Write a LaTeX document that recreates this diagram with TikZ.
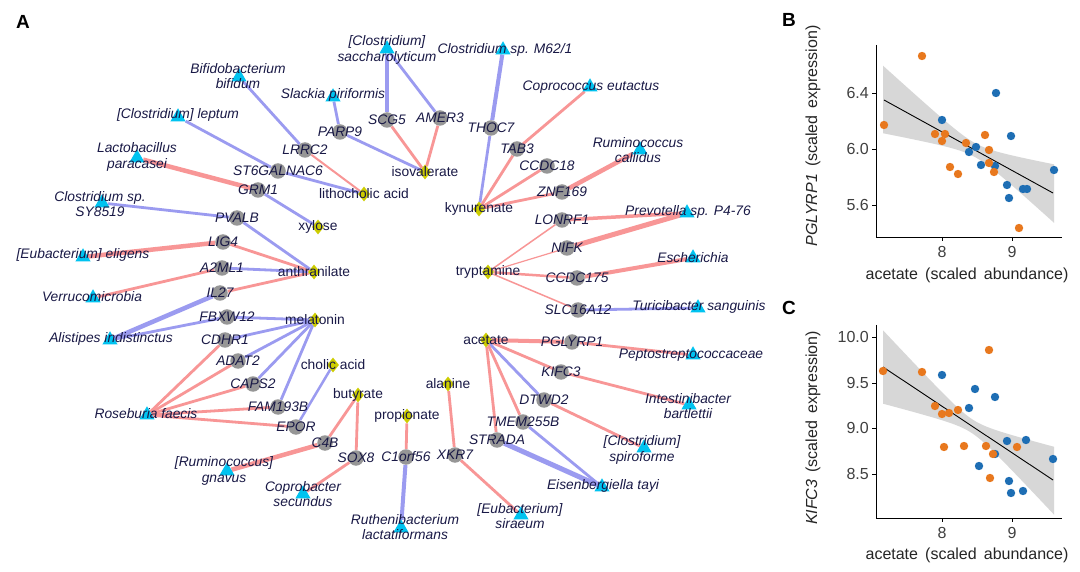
\documentclass[tikz,border=0pt]{standalone}
\usepackage{fontspec}
\setmainfont{Liberation Sans}
\usetikzlibrary{shapes.geometric}
\pgfdeclarelayer{bglayer}
\pgfdeclarelayer{edgelayer}
\pgfsetlayers{bglayer,edgelayer,main}
\definecolor{bactcol}{RGB}{0,195,240}
\definecolor{genecol}{RGB}{150,150,150}
\definecolor{metcol}{RGB}{205,205,0}
\definecolor{txtcol}{RGB}{25,25,70}
\definecolor{edgered}{RGB}{248,150,150}
\definecolor{edgeblue}{RGB}{155,155,240}
\definecolor{dotorange}{RGB}{232,120,30}
\definecolor{dotblue}{RGB}{30,110,180}
\definecolor{bandgray}{RGB}{215,215,215}
\newcommand\labfont{\fontsize{13.8}{15.5}\selectfont}
\newcommand\axfont{\fontsize{16}{18}\selectfont}
\newcommand\bac[4]{\node[tri] (#1) at (#2) {};\node[ilbl] (#1-l) at (#3) {#4};}
\newcommand\gen[3]{\node[gene] (#1) at (#2) {};\node[ilbl] (#1-l) at (#2) {#3};}
\newcommand\met[3]{\node[metab] (#1) at (#2) {};\node[lbl] (#1-l) at (#2) {#3};}
\begin{document}
\begin{tikzpicture}[x=1pt,y=-1pt,
  tri/.style={regular polygon, regular polygon sides=3, fill=bactcol, minimum size=17.5pt, inner sep=0pt},
  gene/.style={circle, fill=genecol, minimum size=15.5pt, inner sep=0pt},
  metab/.style={diamond, fill=metcol, minimum width=12pt, minimum height=15pt, inner sep=0pt},
  lbl/.style={text=txtcol, font=\labfont, align=center, inner sep=0pt},
  ilbl/.style={text=txtcol, font=\labfont\itshape, align=center, inner sep=0pt},
  redge/.style={draw=edgered, line width=#1pt}, redge/.default=2.8,
  bedge/.style={draw=edgeblue, line width=#1pt}, bedge/.default=2.8,
  panel/.style={font=\fontsize{19}{21}\selectfont\bfseries, inner sep=0pt},
  axline/.style={line width=0.9pt, black},
  tick/.style={font=\axfont, text=black!75, inner sep=0pt},
  axtitle/.style={font=\axfont, text=black!85, inner sep=0pt}
]
\useasboundingbox (0,0) rectangle (1080,572);
\begin{pgfonlayer}{bglayer}
\fill[white] (0,0) rectangle (1080,572);
\end{pgfonlayer}

% panel letters
\node[panel] (pA) at (23,22) {A};
\node[panel] (pB) at (789,20) {B};
\node[panel] (pC) at (789,308) {C};

% ---------- bacteria ----------
\bac{bif}{239,77}{238,76}{Bifidobacterium\\bifidum}
\bac{sla}{333,97}{333,95}{Slackia piriformis}
\bac{lep}{178,117}{178,115}{[Clostridium] leptum}
\bac{lac}{137,158}{137,157}{Lactobacillus\\paracasei}
\bac{sac}{387,49}{387,50}{[Clostridium]\\saccharolyticum}
\bac{m62}{503,50}{505,50}{Clostridium sp. M62/1}
\bac{cop}{590,87}{591,87}{Coprococcus eutactus}
\bac{rum}{640,150}{638,150}{Ruminococcus\\callidus}
\bac{sy}{102,203}{100,204}{Clostridium sp.\\SY8519}
\bac{eli}{83,257}{83,255}{[Eubacterium] eligens}
\bac{ver}{93,298}{92,297}{Verrucomicrobia}
\bac{ali}{110,340}{111,339}{Alistipes indistinctus}
\bac{ros}{147,415}{146,414}{Roseburia faecis}
\bac{gna}{227,471}{224,471}{[Ruminococcus]\\gnavus}
\bac{cps}{303,494}{303,494}{Coprobacter\\secundus}
\bac{rut}{401,528}{405,527}{Ruthenibacterium\\lactatiformans}
\bac{sir}{521,515}{520,516}{[Eubacterium]\\siraeum}
\bac{eis}{602,487}{603,486}{Eisenbergiella tayi}
\bac{spi}{644,448}{642,450}{[Clostridium]\\spiroforme}
\bac{int}{689,405}{688,406}{Intestinibacter\\bartlettii}
\bac{pep}{693,355}{691,355}{Peptostreptococcaceae}
\bac{tur}{698,308}{699,307}{Turicibacter sanguinis}
\bac{esc}{693,258}{693,258}{Escherichia}
\bac{pre}{687,213}{688,212}{Prevotella sp. P4-76}

% ---------- genes ----------
\gen{PARP9}{340,132}{PARP9}
\gen{LRRC2}{305,150}{LRRC2}
\gen{ST6}{278,171}{ST6GALNAC6}
\gen{GRM1}{258,190}{GRM1}
\gen{SCG5}{387,120}{SCG5}
\gen{AMER3}{440,118}{AMER3}
\gen{THOC7}{491,128}{THOC7}
\gen{TAB3}{517,149}{TAB3}
\gen{CCDC18}{547,166}{CCDC18}
\gen{ZNF169}{562,192}{ZNF169}
\gen{LONRF1}{562,220}{LONRF1}
\gen{NIFK}{567,248}{NIFK}
\gen{CCDC175}{577,278}{CCDC175}
\gen{SLC}{578,310}{SLC16A12}
\gen{PGLYRP1}{572,342}{PGLYRP1}
\gen{KIFC3}{561,372}{KIFC3}
\gen{DTWD2}{544,400}{DTWD2}
\gen{TMEM}{523,422}{TMEM255B}
\gen{STRADA}{497,440}{STRADA}
\gen{XKR7}{455,455}{XKR7}
\gen{C1orf56}{406,457}{C1orf56}
\gen{SOX8}{356,458}{SOX8}
\gen{C4B}{325,443}{C4B}
\gen{EPOR}{296,427}{EPOR}
\gen{FAM193B}{278,407}{FAM193B}
\gen{CAPS2}{253,384}{CAPS2}
\gen{ADAT2}{238,361}{ADAT2}
\gen{CDHR1}{225,340}{CDHR1}
\gen{FBXW12}{227,317}{FBXW12}
\gen{IL27}{220,293}{IL27}
\gen{A2ML1}{222,268}{A2ML1}
\gen{LIG4}{223,242}{LIG4}
\gen{PVALB}{237,218}{PVALB}

% ---------- metabolites ----------
\met{litho}{364,194}{lithocholic acid}
\met{isov}{425,172}{isovalerate}
\met{xyl}{318,227}{xylose}
\met{kyn}{479,209}{kynurenate}
\met{anth}{314,272}{anthranilate}
\met{tryp}{488,272}{tryptamine}
\met{mel}{315,320}{melatonin}
\met{chol}{333,365}{cholic acid}
\met{acet}{486,340}{acetate}
\met{but}{358,395}{butyrate}
\met{ala}{448,384}{alanine}
\met{prop}{407,416}{propionate}

% ---------- edges ----------
\begin{pgfonlayer}{edgelayer}
\draw[bedge] (bif) -- (LRRC2);
\draw[redge=2] (LRRC2) -- (litho);
\draw[bedge] (lep) -- (ST6);
\draw[bedge] (ST6) -- (litho);
\draw[redge=4.5] (lac) -- (GRM1);
\draw[bedge] (GRM1) -- (xyl);
\draw[bedge] (sla) -- (PARP9);
\draw[bedge] (PARP9) -- (isov);
\draw[bedge=4] (sac) -- (SCG5);
\draw[bedge] (sac) -- (AMER3);
\draw[redge] (SCG5) -- (isov);
\draw[redge] (AMER3) -- (isov);
\draw[bedge=4] (m62) -- (THOC7);
\draw[bedge] (THOC7) -- (kyn);
\draw[redge] (cop) -- (TAB3);
\draw[redge] (TAB3) -- (kyn);
\draw[redge] (CCDC18) -- (kyn);
\draw[redge] (ZNF169) -- (kyn);
\draw[redge=4.5] (rum) -- (ZNF169);
\draw[redge=3.5] (pre) -- (LONRF1);
\draw[redge=5] (pre) -- (NIFK);
\draw[redge=1.5] (LONRF1) -- (tryp);
\draw[redge=1.2] (NIFK) -- (tryp);
\draw[redge=2.5] (CCDC175) -- (tryp);
\draw[redge=4] (esc) -- (CCDC175);
\draw[redge=1.5] (SLC) -- (tryp);
\draw[bedge] (SLC) -- (tur);
\draw[redge=4] (acet) -- (PGLYRP1);
\draw[redge] (PGLYRP1) -- (pep);
\draw[redge] (acet) -- (KIFC3);
\draw[redge] (KIFC3) -- (int);
\draw[bedge] (acet) -- (DTWD2);
\draw[redge] (DTWD2) -- (spi);
\draw[redge] (acet) -- (TMEM);
\draw[redge] (acet) -- (STRADA);
\draw[bedge] (TMEM) -- (eis);
\draw[bedge=5] (STRADA) -- (eis);
\draw[redge] (ala) -- (XKR7);
\draw[redge] (XKR7) -- (sir);
\draw[redge] (prop) -- (C1orf56);
\draw[bedge=4] (C1orf56) -- (rut);
\draw[redge] (but) -- (C4B);
\draw[redge] (but) -- (SOX8);
\draw[redge=4.5] (C4B) -- (gna);
\draw[redge] (SOX8) -- (cps);
\draw[bedge=2.5] (chol) -- (EPOR);
\draw[bedge] (mel) -- (FBXW12);
\draw[bedge] (mel) -- (CDHR1);
\draw[bedge] (mel) -- (ADAT2);
\draw[bedge] (mel) -- (CAPS2);
\draw[bedge] (mel) -- (FAM193B);
\draw[redge] (ros) -- (CDHR1);
\draw[redge] (ros) -- (ADAT2);
\draw[redge] (ros) -- (CAPS2);
\draw[redge] (ros) -- (FAM193B);
\draw[redge] (ros) -- (EPOR);
\draw[bedge=4.5] (ali) -- (IL27);
\draw[bedge] (ali) -- (FBXW12);
\draw[redge] (IL27) -- (anth);
\draw[redge] (ver) -- (A2ML1);
\draw[bedge] (A2ML1) -- (anth);
\draw[redge=4.5] (eli) -- (LIG4);
\draw[redge] (LIG4) -- (anth);
\draw[bedge] (sy) -- (PVALB);
\draw[bedge] (PVALB) -- (anth);
\end{pgfonlayer}

% ---------- panel B ----------
\fill[bandgray] plot[domain=883:1054, samples=60, smooth] (\x, {100+0.5503*(\x-884) - 7*sqrt(1+((\x-975)/19.5)^2)})
  -- plot[domain=1054:883, samples=60, smooth] (\x, {100+0.5503*(\x-884) + 7*sqrt(1+((\x-975)/19.5)^2)}) -- cycle;
\draw[line width=0.9pt, black] (884,100) -- (1053,193);
\foreach \p in {(942,120),(996,93),(1011,136),(969,152),(976,147),(981,165),(995,166),(1007,185),(1009,198),(1023,189),(1027,189),(1054,170)}
  \fill[dotblue] \p circle[radius=4.2pt];
\foreach \p in {(922,56),(884,125),(935,134),(945,134),(942,141),(966,143),(985,135),(989,150),(989,163),(994,172),(950,167),(958,174),(1019,228)}
  \fill[dotorange] \p circle[radius=4.2pt];
\draw[axline] (876,45) -- (876,237) -- (1062,237);
\foreach \yy/\t in {93/6.4,149/6.0,205/5.6} {
  \draw[axline] (872,\yy) -- (876,\yy);
  \node[tick, anchor=east] at (869,\yy) {\t};
}
\foreach \xx/\t in {942/8,1012/9} {
  \draw[axline] (\xx,237) -- (\xx,241);
  \node[tick] at (\xx,252) {\t};
}
\node[axtitle] (xlabB) at (967,275) {acetate\ \,(scaled\ \,abundance)};
\node[axtitle, rotate=90] (ylabB) at (813,136) {\textit{PGLYRP1}\ \,(scaled\ \,expression)};

% ---------- panel C ----------
\fill[bandgray] plot[domain=883:1054, samples=60, smooth] (\x, {367+0.6647*(\x-883) - 7*sqrt(1+((\x-972)/17.3)^2)})
  -- plot[domain=1054:883, samples=60, smooth] (\x, {367+0.6647*(\x-883) + 7*sqrt(1+((\x-972)/17.3)^2)}) -- cycle;
\draw[line width=0.9pt, black] (883,367) -- (1053,480);
\foreach \p in {(942,375),(975,389),(995,397),(969,408),(1007,441),(1026,440),(995,454),(979,466),(1009,481),(1011,493),(1023,491),(1053,459)}
  \fill[dotblue] \p circle[radius=4.2pt];
\foreach \p in {(883,371),(922,372),(935,406),(942,414),(949,413),(958,410),(944,447),(964,446),(989,350),(986,446),(993,454),(990,478),(1017,447)}
  \fill[dotorange] \p circle[radius=4.2pt];
\draw[axline] (876,325) -- (876,518) -- (1062,518);
\foreach \yy/\t in {337/10.0,383/9.5,428/9.0,474/8.5} {
  \draw[axline] (872,\yy) -- (876,\yy);
  \node[tick, anchor=east] at (869,\yy) {\t};
}
\foreach \xx/\t in {942/8,1012/9} {
  \draw[axline] (\xx,518) -- (\xx,522);
  \node[tick] at (\xx,533) {\t};
}
\node[axtitle] (xlabC) at (967,555) {acetate\ \,(scaled\ \,abundance)};
\node[axtitle, rotate=90] (ylabC) at (813,428) {\textit{KIFC3}\ \,(scaled\ \,expression)};
\end{tikzpicture}
\end{document}
